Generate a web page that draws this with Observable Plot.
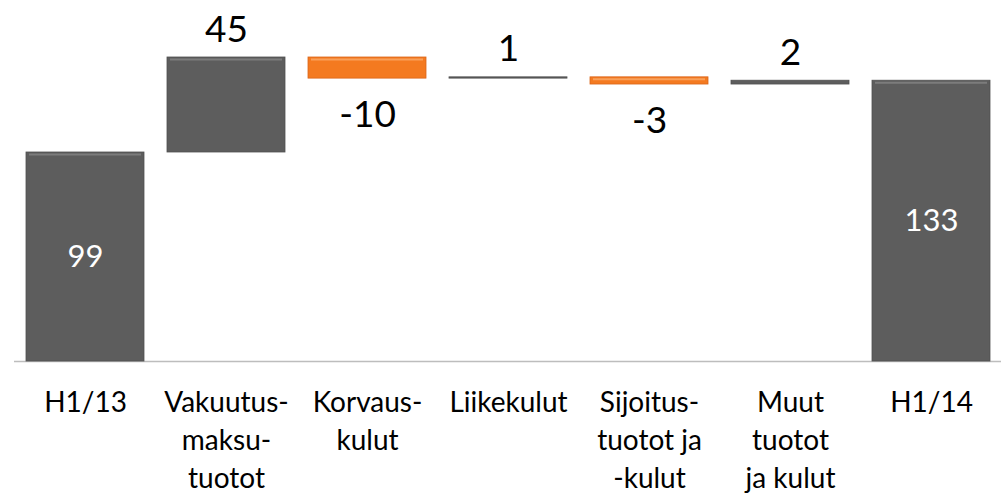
<!DOCTYPE html>
<html>
<head>
<meta charset="utf-8">
<script src="https://cdn.jsdelivr.net/npm/d3@7"></script>
<script src="https://cdn.jsdelivr.net/npm/@observablehq/plot@0.6"></script>
<style>
  html, body { margin: 0; padding: 0; background: #fff; }
  #chart { width: 1001px; height: 494px; overflow: hidden; }
</style>
</head>
<body>
<div id="chart"></div>
<script>
// Categories (full names) and their wrapped tick labels
const categories = ["H1/13", "Vakuutusmaksutuotot", "Korvauskulut", "Liikekulut", "Sijoitustuotot ja -kulut", "Muut tuotot ja kulut", "H1/14"];
const tickLabels = ["H1/13", "Vakuutus-\nmaksu-\ntuotot", "Korvaus-\nkulut", "Liikekulut", "Sijoitus-\ntuotot ja\n-kulut", "Muut\ntuotot\nja kulut", "H1/14"];
// Values (totals and changes)
const values = [99, 45, -10, 0.6, -3.4, 1.8, 133];
const kinds = ["total", "delta", "delta", "delta", "delta", "delta", "total"];
const valueLabels = ["99", "45", "-10", "1", "-3", "2", "133"];

const GRAY = "#5d5d5d", GRAY_HI = "#7c7c7c";
const ORANGE = "#f47a20", ORANGE_HI = "#f9a05a";

// Build waterfall rows
let run = 0;
const rows = categories.map((c, i) => {
  let y1, y2;
  if (kinds[i] === "total") { y1 = 0; y2 = values[i]; run = values[i]; }
  else { y1 = run; y2 = run + values[i]; run = y2; }
  const neg = kinds[i] === "delta" && values[i] < 0;
  return {
    cat: c, kind: kinds[i], value: values[i], label: valueLabels[i],
    y1, y2, top: Math.max(y1, y2), bottom: Math.min(y1, y2), mid: (y1 + y2) / 2,
    fill: neg ? ORANGE : GRAY, hi: neg ? ORANGE_HI : GRAY_HI, neg
  };
});

const chart = Plot.plot({
  width: 1001,
  height: 494,
  marginLeft: 14,
  marginRight: 0,
  marginTop: 0,
  marginBottom: 133,
  style: { fontFamily: "Lato, 'Open Sans', sans-serif", background: "#fff", overflow: "visible" },
  x: { domain: categories, paddingInner: 0.165, paddingOuter: 0.077, axis: null },
  y: { domain: [0, 171], axis: null },
  color: { type: "identity" },
  marks: [
    Plot.ruleY([0], { stroke: "#bdbdbd", strokeWidth: 1.5 }),
    Plot.barY(rows, { x: "cat", y1: "y1", y2: "y2", fill: "fill", stroke: d => d.neg ? "#d9651a" : "#505050", strokeWidth: 0.8 }),
    Plot.tickY(rows.filter(d => Math.abs(d.y2 - d.y1) > 2), {
      x: "cat", y: "top", stroke: "hi", strokeWidth: 2, dy: 2, insetLeft: 3, insetRight: 3
    }),
    // labels above positive changes
    Plot.text(rows.filter(d => d.kind === "delta" && !d.neg), {
      x: "cat", y: "top", text: "label", lineAnchor: "bottom", dy: -16, fontSize: 37, fill: "#000"
    }),
    // labels below negative changes
    Plot.text(rows.filter(d => d.neg), {
      x: "cat", y: "bottom", text: "label", lineAnchor: "top", dy: 22, fontSize: 37, fill: "#000"
    }),
    // labels inside totals
    Plot.text(rows.filter(d => d.kind === "total"), {
      x: "cat", y: "mid", text: "label", lineAnchor: "middle", fontSize: 31, fill: "#fff"
    }),
    // category labels
    Plot.text(categories, {
      x: d => d, text: (d, i) => tickLabels[i], frameAnchor: "bottom", lineAnchor: "top",
      dy: 23, fontSize: 28, lineHeight: 1.36, fill: "#000"
    })
  ]
});
document.getElementById("chart").appendChild(chart);
</script>
</body>
</html>
